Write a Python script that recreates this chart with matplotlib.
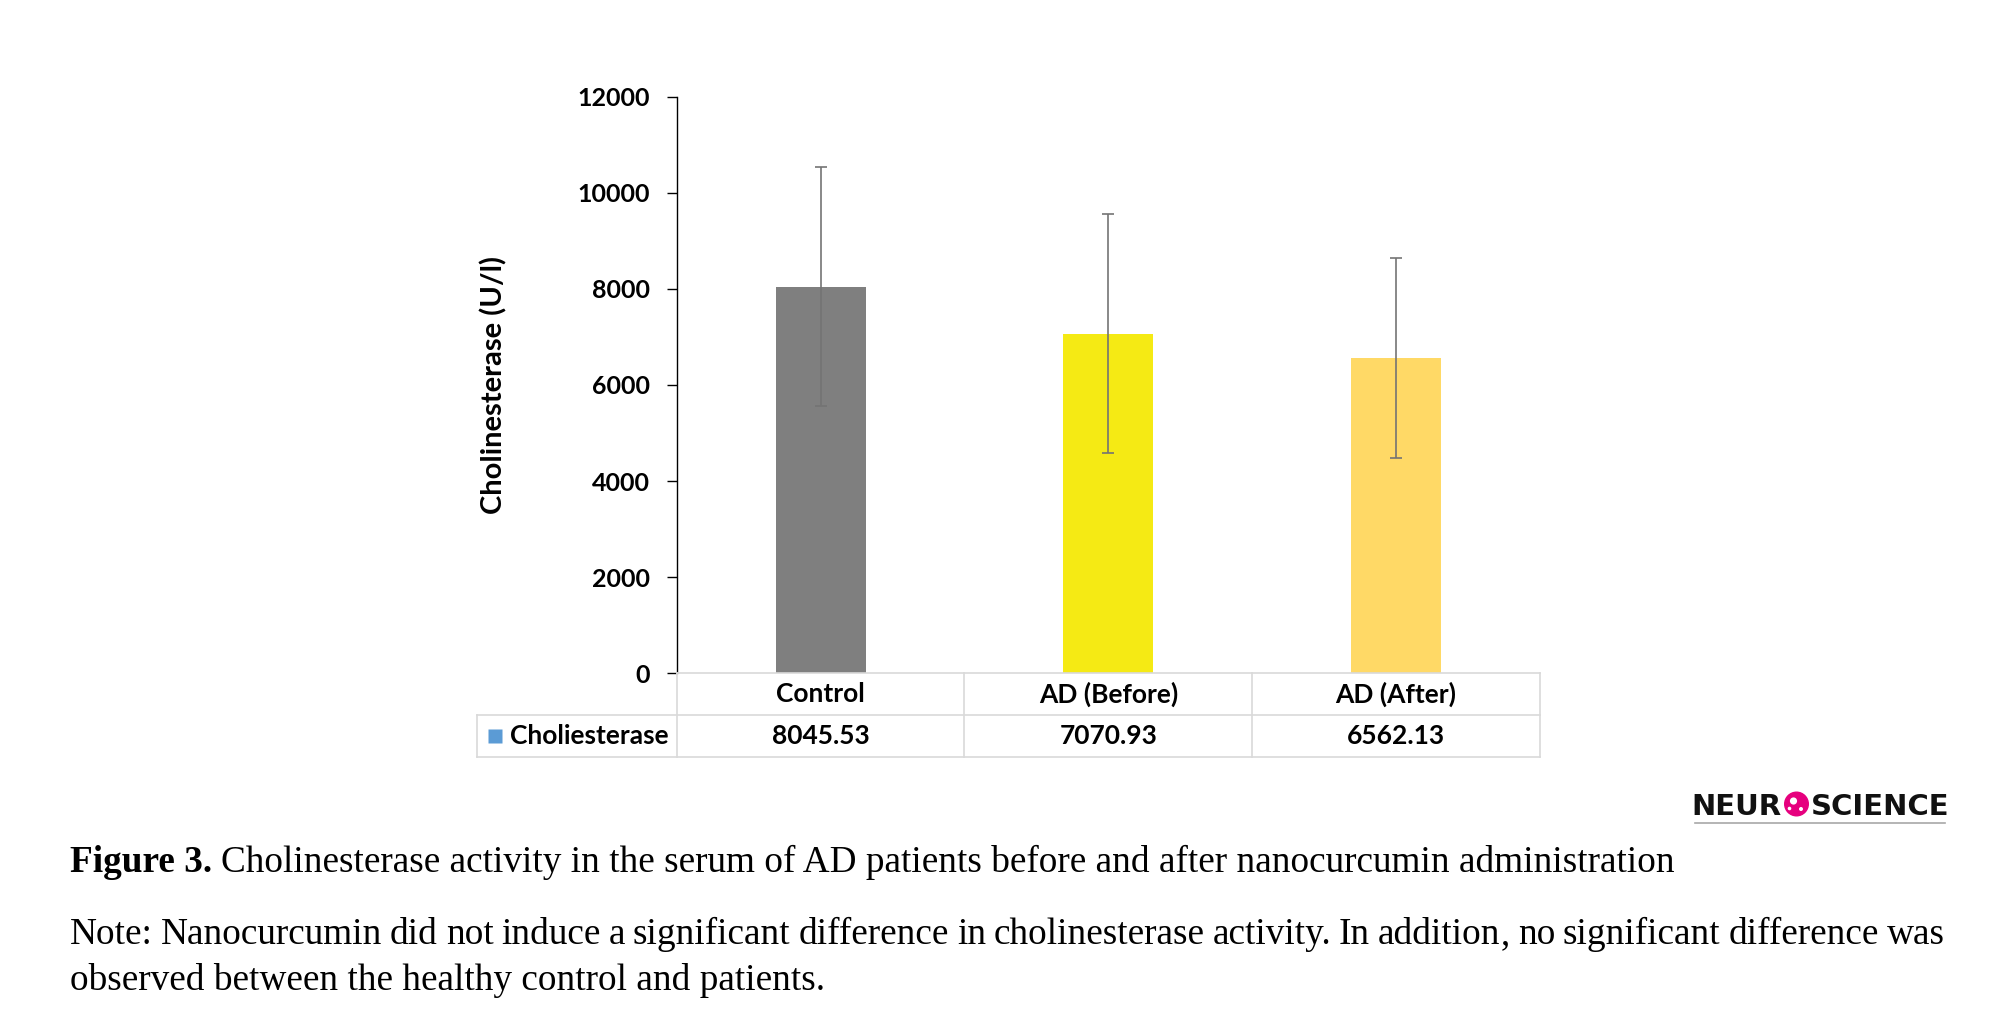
import matplotlib
matplotlib.use('Agg')
import matplotlib.pyplot as plt
from matplotlib.patches import Circle
from matplotlib.lines import Line2D
import numpy as np

# ---------------- data ----------------
categories = ['Control', 'AD (Before)', 'AD (After)']
means = [8045.53, 7070.93, 6562.13]
sds = [2488, 2492, 2087]
value_labels = ['8045.53', '7070.93', '6562.13']
series_name = 'Choliesterase'
yticks = [0, 2000, 4000, 6000, 8000, 10000, 12000]
ylabel = 'Cholinesterase (U/l)'
caption_bold = 'Figure 3.'
caption_rest = 'Cholinesterase activity in the serum of AD patients before and after nanocurcumin administration'
note_line1 = ('Note: Nanocurcumin did not induce a significant difference in cholinesterase activity. '
              'In addition, no significant difference was')
note_line2 = 'observed between the healthy control and patients.'
bar_colors = ['#7f7f7f', '#f5ea14', '#ffd966']

# ---------------- figure ----------------
W, H = 2000, 1026
fig = plt.figure(figsize=(W / 100, H / 100), dpi=100)


def fx(px):
    return px / W


def fy(py):
    return 1 - py / H


ax_l, ax_r = 676.7, 1540.0
ax_t, ax_b = 96.7, 673.3
ax = fig.add_axes([fx(ax_l), fy(ax_b), (ax_r - ax_l) / W, (ax_b - ax_t) / H])
x = np.arange(len(categories))
ax.bar(x, means, width=0.3125, color=bar_colors, zorder=2)
ax.errorbar(x, means, yerr=sds, fmt='none', ecolor='#747474', elinewidth=1.2,
            capsize=4, capthick=1.2, zorder=3)
ax.set_xlim(-0.5, 2.5)
ax.set_ylim(0, 12000)
ax.set_yticks(yticks)
ax.set_yticklabels([str(v) for v in yticks])
for s in ['top', 'right', 'bottom']:
    ax.spines[s].set_visible(False)
ax.spines['left'].set_linewidth(1.0)
ax.set_xticks([])
ax.tick_params(axis='y', length=7.2, width=1.0, pad=12, labelsize=18)
for lab in ax.get_yticklabels():
    lab.set_fontweight('bold')
    lab.set_family('Lato')
ax.set_ylabel(ylabel, fontsize=21, fontweight='bold', family='Lato')
ax.yaxis.set_label_coords((507 - ax_l) / (ax_r - ax_l), (ax_b - 385) / (ax_b - ax_t))

# ---------------- data table ----------------
tb_l, tb_t, tb_b = 477.3, 673.3, 757.3
cat_w = (ax_r - ax_l) / 3
tab = fig.add_axes([fx(tb_l), fy(tb_b), (ax_r - tb_l) / W, (tb_b - tb_t) / H])
x0 = -0.5 - (ax_l - tb_l) / cat_w
tab.set_xlim(x0, 2.5)
tab.set_ylim(0, 2)
tab.axis('off')
lc, lw = '#d9d9d9', 1.2
tab.plot([-0.5, 2.5], [2, 2], color=lc, lw=lw, clip_on=False)
tab.plot([x0, 2.5], [1, 1], color=lc, lw=lw, clip_on=False)
tab.plot([x0, 2.5], [0, 0], color=lc, lw=lw, clip_on=False)
tab.plot([x0, x0], [0, 1], color=lc, lw=lw, clip_on=False)
for b in [-0.5, 0.5, 1.5, 2.5]:
    tab.plot([b, b], [0, 2], color=lc, lw=lw, clip_on=False)
tfs = 19
for i, c in enumerate(categories):
    tab.text(i, 1.5, c, ha='center', va='center', fontsize=tfs, fontweight='bold', family='Lato')
for i, v in enumerate(value_labels):
    tab.text(i, 0.5, v, ha='center', va='center', fontsize=tfs, fontweight='bold', family='Lato')
tab.plot([x0 + 17.7 / cat_w], [0.5], marker='s', ms=10, color='#5b9bd5', mec='none', clip_on=False)
tab.text(x0 + 33.0 / cat_w, 0.5, series_name, ha='left', va='center', fontsize=tfs,
         fontweight='bold', family='Lato')

# ---------------- logo ----------------
fig.text(fx(1782), fy(815), 'NEUR', ha='right', va='baseline', family='DejaVu Sans',
         fontweight='bold', fontsize=21, color='#111111')
fig.text(fx(1811), fy(815), 'SCIENCE', ha='left', va='baseline', family='DejaVu Sans',
         fontweight='bold', fontsize=21, color='#111111')
tr = fig.dpi_scale_trans
cx, cy = 17.965, (H - 804) / 100
fig.add_artist(Circle((cx, cy), 0.118, transform=tr, color='#e6007e'))
fig.add_artist(Circle((cx - 0.03, cy + 0.03), 0.036, transform=tr, facecolor='white', edgecolor='none'))
fig.add_artist(Circle((cx + 0.045, cy - 0.05), 0.02, transform=tr, facecolor='white', edgecolor='none'))
fig.add_artist(Circle((cx - 0.07, cy - 0.045), 0.018, transform=tr, facecolor='white', edgecolor='none'))
fig.add_artist(Line2D([16.95, 19.45], [(H - 822.7) / 100] * 2, transform=tr, color='#a8a8a8', lw=1.2))

# ---------------- caption ----------------
cap_font = 'Liberation Serif'
r = fig.canvas.get_renderer()
fs0 = 20.0
t_b = fig.text(fx(70), fy(872), caption_bold, fontsize=fs0, family=cap_font,
               fontweight='bold', va='baseline')
t_r = fig.text(fx(70), fy(872), caption_rest, fontsize=fs0, family=cap_font, va='baseline')
wb = t_b.get_window_extent(r).width
wr = t_r.get_window_extent(r).width
sp0 = 0.25 * fs0 * 100 / 72
fs = fs0 * (1677 - 70) / (wb + sp0 + wr)
t_b.set_fontsize(fs)
t_r.set_fontsize(fs)
wb = t_b.get_window_extent(r).width
t_r.set_x(fx(70 + wb + 0.25 * fs * 100 / 72))

# justified first note line (trailing commas drawn separately to keep baselines level)
words = note_line1.split(' ')
groups = []
for wd in words:
    if wd.endswith(','):
        groups.append([wd[:-1], ','])
    else:
        groups.append([wd])
gtexts = []
gwidths = []
for g in groups:
    ts = [fig.text(0, fy(944), p, fontsize=fs, family=cap_font, va='baseline') for p in g]
    ws = [t.get_window_extent(r).width for t in ts]
    gtexts.append(ts)
    gwidths.append(ws)
total = sum(sum(ws) for ws in gwidths)
gap = ((1945 - 70) - total) / (len(groups) - 1)
xpos = 70.0
for ts, ws in zip(gtexts, gwidths):
    for t, wdt in zip(ts, ws):
        t.set_x(fx(round(xpos)))
        xpos += wdt
    xpos += gap
prop = gtexts[0][0].get_fontproperties()
d_lp = r.get_text_width_height_descent('lp', prop, ismath=False)[2]
d_cm = r.get_text_width_height_descent(',', prop, ismath=False)[2]
for ts in gtexts:
    if len(ts) == 2:
        ts[1].set_y(fy(944 - max(0.0, d_cm - d_lp)))
fig.text(fx(70), fy(990), note_line2, fontsize=fs, family=cap_font, va='baseline')

fig.savefig('out.png', dpi=100)
